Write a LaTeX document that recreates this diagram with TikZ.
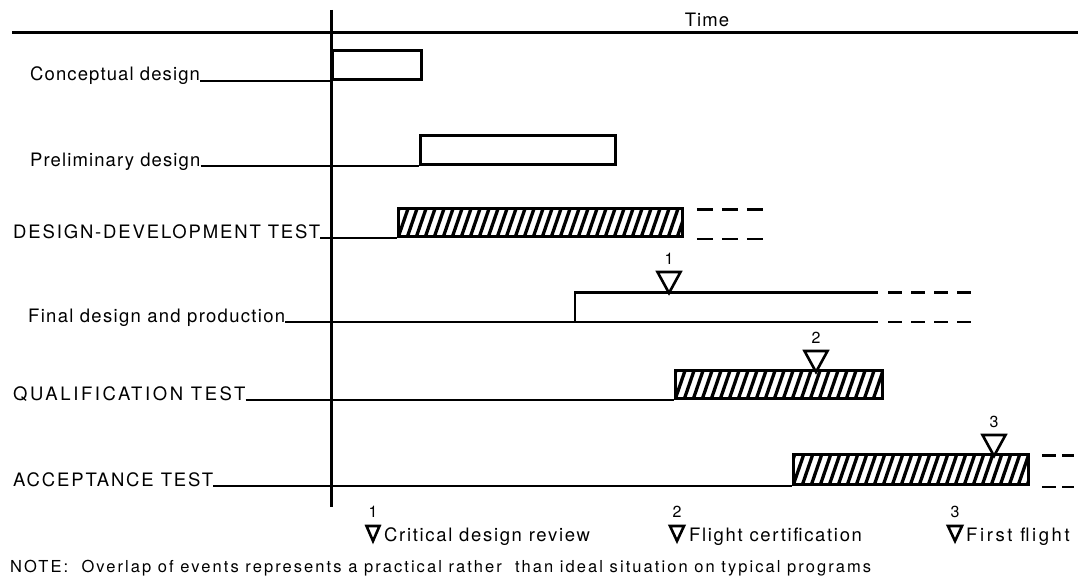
\documentclass[tikz,border=0pt]{standalone}
\usepackage{fontspec}
\setmainfont[LetterSpace=6]{TeX Gyre Heros}

\begin{document}
\begin{tikzpicture}[x=1pt, y=-1pt,
	every node/.style={font=\fontsize{18.5}{22}\selectfont, inner sep=0pt},
	lbl/.style={anchor=base west},
	caps/.style={lbl, font=\fontsize{18.5}{22}\selectfont\addfontfeature{LetterSpace=10}},
	legend/.style={lbl, font=\fontsize{18.5}{22}\selectfont\addfontfeature{LetterSpace=9}},
	num/.style={font=\fontsize{16}{19}\selectfont},
	lead/.style={line width=1.4pt},
	thickline/.style={line width=3pt},
	barbox/.style={draw, line width=2.8pt, anchor=south west, minimum height=29pt},
	hatched/.style={barbox, path picture={
		\foreach \k in {-4,...,34}
			\draw[line width=3.3pt] ([xshift=\k*9pt]path picture bounding box.south west) -- ++(11pt,32pt);}},
	dashline/.style={line width=2.8pt, dash pattern=on 15pt off 8pt},
	milestone/.style={line width=2.6pt, line join=miter}]
	\useasboundingbox (0,0) rectangle (1078,578);

	% time axis
	\coordinate (tl) at (12,33);
	\coordinate (tr) at (1078,33);
	\coordinate (vt) at (331,10);
	\coordinate (vb) at (331,507);
	\draw[thickline] (tl) -- (tr);
	\draw[thickline] (vt) -- (vb);
	\node (time) at (707,20) {Time};

	% phases
	\node[lbl] (cd) at (30,81) {Conceptual design};
	\node[barbox, minimum width=89pt] (cdbar) at (331,81) {};
	\draw[lead] (cd.base east) -- (cd.base east -| cdbar.south west);

	\node[lbl] (pd) at (30,166) {Preliminary design};
	\node[barbox, minimum width=195pt] (pdbar) at (419,166) {};
	\draw[lead] (pd.base east) -- (pd.base east -| pdbar.south west);

	\node[caps] (dd) at (13,238) {DESIGN-DEVELOPMENT TEST};
	\node[hatched, minimum width=284pt, minimum height=28pt] (ddbar) at (397,238) {};
	\draw[lead] (dd.base east) -- (dd.base east -| ddbar.south west);
	\draw[dashline, dash pattern=on 16pt off 9pt] (ddbar.north east) ++(13,2) -- ++(66,0);
	\draw[dashline, dash pattern=on 16pt off 9pt] (ddbar.south east) ++(13,1) -- ++(66,0);

	\node[lbl, font=\fontsize{18.5}{22}\selectfont\addfontfeature{LetterSpace=7}] (fd) at (28,322) {Final design and production};
	\node[minimum width=303pt, minimum height=29pt, anchor=south west] (fdbar) at (575,322) {};
	\draw[lead] (fd.base east) -- (fdbar.south west);
	\draw[line width=2.6pt] (fdbar.south west) -- (fdbar.north west) -- (fdbar.north east);
	\draw[line width=2.2pt] (fdbar.south west) -- (fdbar.south east);
	\draw[dashline, dash pattern=on 14pt off 9pt] (fdbar.north east) ++(10,0) -- ++(83,0);
	\draw[dashline, dash pattern=on 14pt off 9pt] (fdbar.south east) ++(10,0) -- ++(83,0);

	\node[caps, font=\fontsize{18.5}{22}\selectfont\addfontfeature{LetterSpace=14}] (qt) at (13,400) {QUALIFICATION TEST};
	\node[hatched, minimum width=207pt, minimum height=28pt] (qtbar) at (674,400) {};
	\draw[lead] (qt.base east) -- (qt.base east -| qtbar.south west);

	\node[caps] (ac) at (13,486) {ACCEPTANCE TEST};
	\node[hatched, minimum width=235pt, minimum height=30pt] (acbar) at (792,486) {};
	\draw[lead] (ac.base east) -- (ac.base east -| acbar.south west);
	\draw[dashline, dash pattern=on 14pt off 6pt] (acbar.north east) ++(12,2) -- ++(32,0);
	\draw[dashline, dash pattern=on 14pt off 6pt] (acbar.south east) ++(12,1) -- ++(32,0);

	% milestones
	\coordinate (m1) at (669,293);
	\coordinate (m2) at (816,372);
	\coordinate (m3) at (994,456);
	\draw[milestone] (m1) -- ++(-11.5pt,21pt) -- ++(23pt,0pt) node[midway, above=6pt, num] (m1n) {1} -- cycle;
	\draw[milestone] (m2) -- ++(-11.5pt,21pt) -- ++(23pt,0pt) node[midway, above=6pt, num] (m2n) {2} -- cycle;
	\draw[milestone] (m3) -- ++(-11.5pt,21pt) -- ++(23pt,0pt) node[midway, above=6pt, num] (m3n) {3} -- cycle;

	% legend
	\coordinate (l1) at (373,541);
	\coordinate (l2) at (677,541);
	\coordinate (l3) at (955,541);
	\draw[milestone] (l1) -- ++(-6.5pt,15pt) -- ++(13pt,0pt) node[midway, above=7pt, num] (l1n) {1} -- cycle;
	\draw[milestone] (l2) -- ++(-7pt,15pt) -- ++(14pt,0pt) node[midway, above=7pt, num] (l2n) {2} -- cycle;
	\draw[milestone] (l3) -- ++(-7pt,15pt) -- ++(14pt,0pt) node[midway, above=7pt, num] (l3n) {3} -- cycle;
	\node[legend] (l1t) at (384,541) {Critical design review};
	\node[legend] (l2t) at (689,541) {Flight certification};
	\node[legend, font=\fontsize{18.5}{22}\selectfont\addfontfeature{LetterSpace=14}] (l3t) at (966,541) {First flight};

	\node[lbl, font=\fontsize{16.5}{20}\selectfont\addfontfeature{LetterSpace=12.5}] (note) at (10,572) {NOTE:\ \ Overlap of events represents a practical rather\ \ than ideal situation on typical programs};
\end{tikzpicture}
\end{document}
